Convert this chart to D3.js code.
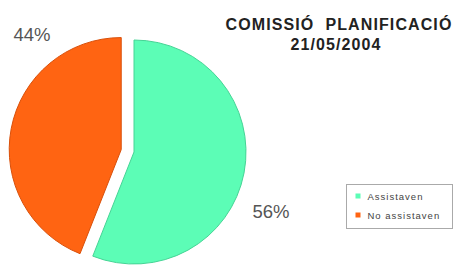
<!DOCTYPE html>
<html>
<head>
<meta charset="utf-8">
<script src="https://cdn.jsdelivr.net/npm/d3@7"></script>
<style>
  body { margin: 0; background: #fff; }
  svg { display: block; font-family: "Liberation Sans", Arial, sans-serif; }
  .title { white-space: pre; }
</style>
</head>
<body>
<svg id="chart" width="459" height="266"></svg>
<script>
// data
const categories = ['Assistaven', 'No assistaven'];
const values = [56, 44];
const pctLabels = ['56%', '44%'];
const colors = ['#5cfdb6', '#ff6412'];
const title = ['COMISSIÓ  PLANIFICACIÓ', '21/05/2004'];

const svg = d3.select('#chart'),
    cx = 134, cy = 152, r = 112,
    explode = [0, 13];

const pie = d3.pie().sort(null).value(d => d);
const arc = d3.arc().innerRadius(0).outerRadius(r);
const arcs = pie(values);

const g = svg.append('g').attr('transform', `translate(${cx},${cy})`);

g.selectAll('path')
    .data(arcs)
    .enter()
    .append('path')
    .attr('d', arc)
    .attr('fill', (d, i) => colors[i])
    .attr('stroke', (d, i) => i === 0 ? '#45d495' : '#d9500a')
    .attr('stroke-width', 1)
    .attr('transform', (d, i) => {
        let a = (d.startAngle + d.endAngle) / 2;
        return `translate(${Math.sin(a) * explode[i]},${-Math.cos(a) * explode[i]})`;
    });

// percentage labels
const labelPos = [[271, 218], [32, 41]];
svg.selectAll('.pct')
    .data(pctLabels)
    .enter()
    .append('text')
    .attr('class', 'pct')
    .attr('x', (d, i) => labelPos[i][0])
    .attr('y', (d, i) => labelPos[i][1])
    .attr('text-anchor', 'middle')
    .attr('font-size', 18.5)
    .attr('fill', '#555')
    .text(d => d);

// title
svg.selectAll('.title')
    .data(title)
    .enter()
    .append('text')
    .attr('class', 'title')
    .attr('x', (d, i) => i === 0 ? 339 : 336)
    .attr('y', (d, i) => 30 + i * 20)
    .attr('text-anchor', 'middle')
    .attr('font-size', 16)
    .attr('font-weight', 'bold')
    .attr('letter-spacing', 1.1)
    .attr('fill', '#222')
    .text(d => d);

// legend
const legend = svg.append('g').attr('transform', 'translate(346.5,184.5)');
legend.append('rect')
    .attr('width', 106).attr('height', 44)
    .attr('fill', '#fff')
    .attr('stroke', '#aaa');

const items = legend.selectAll('.item')
    .data(categories)
    .enter()
    .append('g')
    .attr('transform', (d, i) => `translate(9,${15 + i * 19})`);

items.append('rect')
    .attr('width', 5).attr('height', 5)
    .attr('y', -6)
    .attr('fill', (d, i) => colors[i]);

items.append('text')
    .attr('x', 12)
    .attr('y', 0)
    .attr('font-size', 9.5)
    .attr('letter-spacing', 1)
    .attr('fill', '#444')
    .text(d => d);
</script>
</body>
</html>
